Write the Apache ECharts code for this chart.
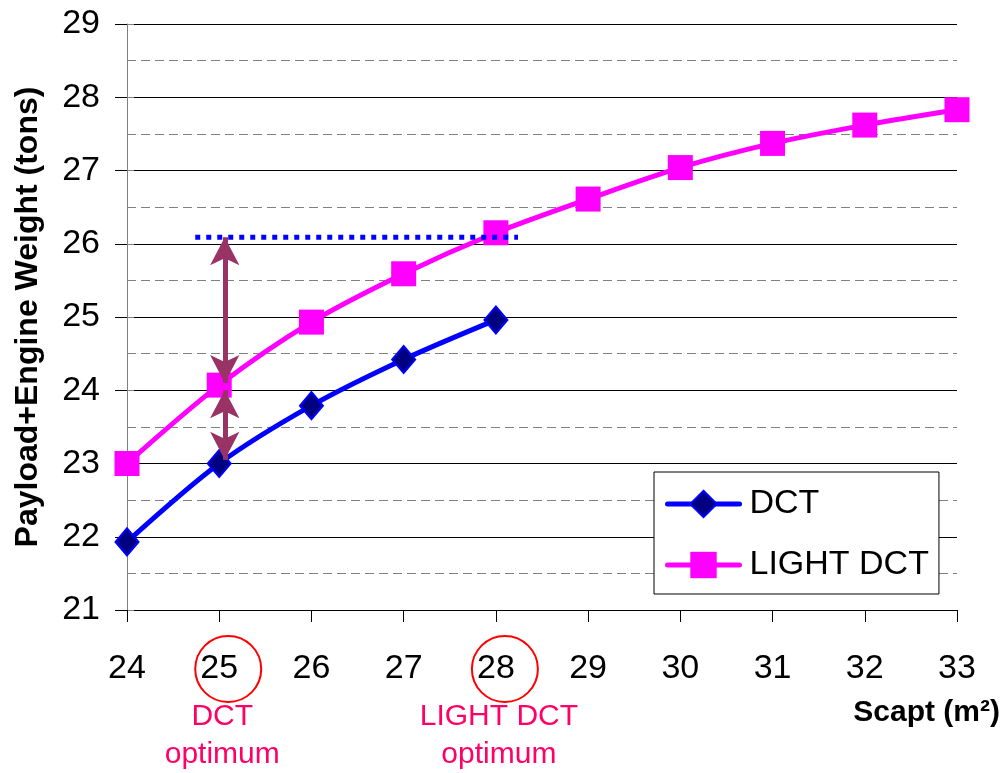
<!DOCTYPE html>
<html>
<head>
<meta charset="utf-8">
<script src="https://cdn.jsdelivr.net/npm/echarts@6/dist/echarts.min.js"></script>
<style>
  html, body { margin: 0; padding: 0; background: #fff; }
  #chart { width: 1004px; height: 773px; }
</style>
</head>
<body>
<div id="chart"></div>
<script>
// 数据
const scapt = [24, 25, 26, 27, 28, 29, 30, 31, 32, 33];
const dctWeight = [21.93, 23.0, 23.79, 24.42, 24.96];
const lightWeight = [23.0, 24.07, 24.93, 25.59, 26.15, 26.61, 27.04, 27.37, 27.62, 27.83];
// 标注：水平虚线与双向箭头
const guideX = [24.74, 28.24];
const guideY = 26.09;
const arrowX = 25.06;
const arrowUpper = [26.09, 24.1];
const arrowLower = [24.0, 23.05];
const optimumX = [25, 28];
const optimumText = ['DCT\noptimum', 'LIGHT DCT\noptimum'];

const font = "'Liberation Sans', Arial, sans-serif";
const chart = echarts.init(document.getElementById('chart'));

function pairs(xs, ys) {
    return ys.map((y, i) => [xs[i], y]);
}

chart.setOption({
    backgroundColor: '#fff',
    animation: false,
    grid: { left: 127, right: 47, top: 24, bottom: 163, outerBoundsMode: 'none', containLabel: false },
    legend: {
        data: ['DCT', 'LIGHT DCT'],
        orient: 'vertical',
        left: 654,
        top: 472,
        padding: [15, 10, 12, 11],
        itemWidth: 72,
        itemHeight: 33,
        itemGap: 27,
        backgroundColor: '#fff',
        borderColor: '#000',
        borderWidth: 1,
        lineStyle: { width: 5, cap: 'round' },
        textStyle: { fontFamily: font, fontSize: 34, color: '#000', padding: [0, 0, 0, 5] }
    },
    xAxis: {
        type: 'value',
        min: 24,
        max: 33,
        interval: 1,
        axisLine: { lineStyle: { color: '#000', width: 1 } },
        axisTick: { show: true, length: 12, lineStyle: { color: '#000' } },
        axisLabel: { fontFamily: font, fontSize: 34, color: '#000', margin: 42 },
        splitLine: { show: false }
    },
    yAxis: [{
        type: 'value',
        min: 21,
        max: 29,
        interval: 1,
        name: 'Payload+Engine Weight (tons)',
        nameLocation: 'middle',
        nameGap: 83,
        nameRotate: 90,
        nameTextStyle: { fontFamily: font, fontSize: 32, fontWeight: 'bold', color: '#000' },
        axisLine: { show: true, lineStyle: { color: '#808080', width: 1 } },
        axisTick: { show: true, length: 12, lineStyle: { color: '#000' } },
        axisLabel: { fontFamily: font, fontSize: 34, color: '#000', margin: 27 },
        splitLine: { show: true, lineStyle: { color: '#000', width: 1 } }
    }, {
        type: 'value',
        min: 21,
        max: 29,
        interval: 0.5,
        position: 'left',
        axisLine: { show: false },
        axisTick: { show: true, inside: true, length: 7, lineStyle: { color: '#808080' } },
        axisLabel: { show: false },
        splitLine: {
            show: true,
            lineStyle: { color: ['rgba(0,0,0,0)', '#808080'], width: 1, type: [9, 5] }
        }
    }],
    series: [{
        name: 'DCT',
        type: 'line',
        data: pairs(scapt, dctWeight),
        smooth: 0.3,
        symbol: 'diamond',
        symbolSize: [23, 27],
        itemStyle: { color: '#000080', borderColor: '#0000FF', borderWidth: 2 },
        lineStyle: { color: '#0000FF', width: 5 },
        z: 3
    }, {
        name: 'LIGHT DCT',
        type: 'line',
        data: pairs(scapt, lightWeight),
        smooth: 0.3,
        symbol: 'rect',
        symbolSize: 25,
        itemStyle: { color: '#FF00FF' },
        lineStyle: { color: '#FF00FF', width: 5 },
        z: 3
    }, {
        name: 'guide',
        type: 'line',
        data: guideX.map(x => [x, guideY]),
        symbol: 'none',
        lineStyle: { color: '#0000FF', width: 5, type: [5, 6] },
        silent: true,
        z: 5
    }, {
        name: 'arrows',
        type: 'line',
        data: [],
        silent: true,
        z: 6,
        markLine: {
            silent: true,
            symbol: ['arrow', 'arrow'],
            symbolSize: [22, 28],
            label: { show: false },
            lineStyle: { color: '#993366', width: 5, type: 'solid' },
            data: [
                [{ coord: [arrowX, arrowUpper[0]] }, { coord: [arrowX, arrowUpper[1]] }],
                [{ coord: [arrowX, arrowLower[0]] }, { coord: [arrowX, arrowLower[1]] }]
            ]
        }
    }]
});

// 底部标注：红圈、optimum 文字、横轴名
function drawNotes() {
    const els = [];
    optimumX.forEach((x, i) => {
        const p = chart.convertToPixel({ xAxisIndex: 0, yAxisIndex: 0 }, [x, 21]);
        els.push({
            type: 'circle',
            shape: { cx: p[0] + 9, cy: 669, r: 33 },
            style: { fill: 'none', stroke: '#FF0000', lineWidth: 2 },
            z: 10
        });
        els.push({
            type: 'text',
            x: p[0] + 3,
            y: 698,
            style: {
                text: optimumText[i],
                fontFamily: font,
                fontSize: 30,
                lineHeight: 38,
                fill: '#FF0066',
                align: 'center',
                verticalAlign: 'top'
            },
            z: 10
        });
    });
    els.push({
        type: 'text',
        right: 4,
        top: 698,
        style: {
            text: 'Scapt (m²)',
            fontFamily: font,
            fontSize: 30,
            fontWeight: 'bold',
            fill: '#000'
        },
        z: 10
    });
    chart.setOption({ graphic: els });
}
drawNotes();
</script>
</body>
</html>
